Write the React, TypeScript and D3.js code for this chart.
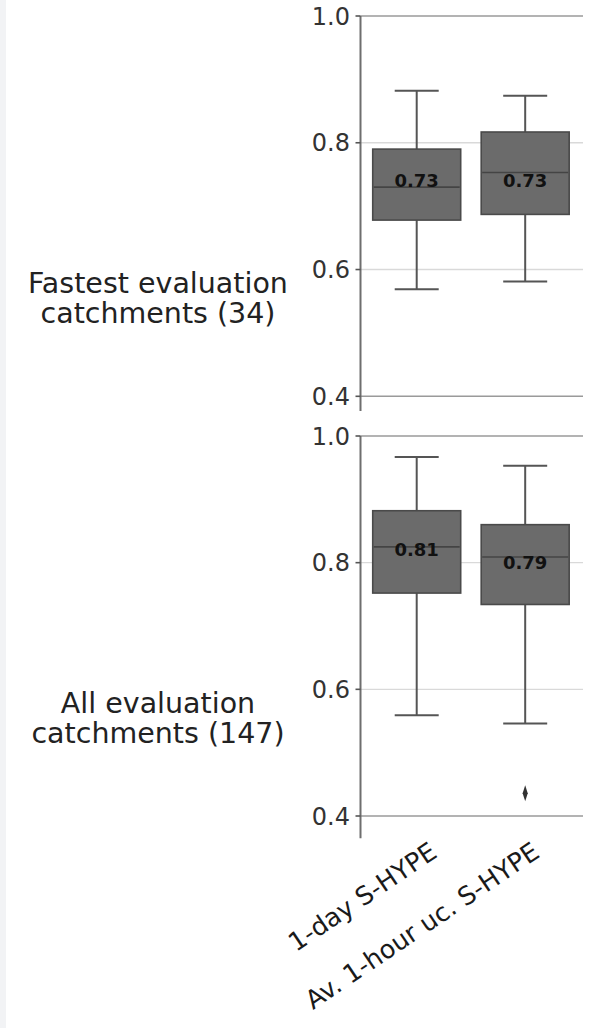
import React from "react";
import * as d3 from "d3";

const categories = ["1-day S-HYPE", "Av. 1-hour uc. S-HYPE"];
const panelLabels = [
  ["Fastest evaluation", "catchments (34)"],
  ["All evaluation", "catchments (147)"],
];
const yTicks = [0.4, 0.6, 0.8, 1.0];

// Fastest evaluation catchments (34)
const fastestWhiskerLow = [0.569, 0.581];
const fastestQ1 = [0.678, 0.687];
const fastestMedian = [0.73, 0.753];
const fastestQ3 = [0.79, 0.817];
const fastestWhiskerHigh = [0.882, 0.874];
const fastestMean = [0.73, 0.73];
const fastestOutliers: number[][] = [[], []];

// All evaluation catchments (147)
const allWhiskerLow = [0.559, 0.546];
const allQ1 = [0.752, 0.734];
const allMedian = [0.825, 0.809];
const allQ3 = [0.882, 0.86];
const allWhiskerHigh = [0.967, 0.953];
const allMean = [0.81, 0.79];
const allOutliers: number[][] = [[], [0.436]];

const W = 613;
const H = 1028;
const axisX = 360.5;
const gridRight = 583;
const labelShift = [22, 16];

const panels = [
  {
    label: panelLabels[0],
    low: fastestWhiskerLow, q1: fastestQ1, med: fastestMedian, q3: fastestQ3,
    high: fastestWhiskerHigh, mean: fastestMean, out: fastestOutliers,
    y: d3.scaleLinear().domain([0.4, 1.0]).range([396.3, 16]),
    yMin: 0.377,
  },
  {
    label: panelLabels[1],
    low: allWhiskerLow, q1: allQ1, med: allMedian, q3: allQ3,
    high: allWhiskerHigh, mean: allMean, out: allOutliers,
    y: d3.scaleLinear().domain([0.4, 1.0]).range([816, 436]),
    yMin: 0.365,
  },
];

const x = d3
  .scaleBand<string>()
  .domain(categories)
  .range([359.7, 582.2])
  .paddingInner(0.189)
  .paddingOuter(0.12);

const FONT = "'DejaVu Sans', sans-serif";

export default function App() {
  const bw = x.bandwidth();
  const diamond = d3.symbol().type(d3.symbolDiamond).size(40)();
  return (
    <svg
      width={W}
      height={H}
      style={{ position: "absolute", left: 0, top: 0, background: "#fff" }}
      fontFamily={FONT}
    >
      <rect x={0} y={0} width={W} height={H} fill="#ffffff" />
      <rect x={0} y={0} width={6} height={H} fill="#f2f3f5" />
      {panels.map((p, pi) => {
        const y = p.y;
        const top = y(1.0);
        return (
          <g key={pi}>
            {yTicks.map((t) => (
              <line
                key={"g" + t}
                x1={axisX}
                x2={gridRight}
                y1={y(t)}
                y2={y(t)}
                stroke={t === 1.0 || t === 0.4 ? "#9a9a9a" : "#d9d9d9"}
                strokeWidth={t === 1.0 || t === 0.4 ? 1.6 : 1.4}
              />
            ))}
            <line x1={axisX} x2={axisX} y1={top} y2={y(p.yMin)} stroke="#6e6e6e" strokeWidth={2} />
            {yTicks.map((t) => (
              <g key={"t" + t}>
                <line x1={axisX - 5} x2={axisX} y1={y(t)} y2={y(t)} stroke="#555" strokeWidth={1.6} />
                <text
                  x={350}
                  y={y(t)}
                  dy="0.36em"
                  textAnchor="end"
                  fontSize={24}
                  fill="#333"
                >
                  {d3.format(".1f")(t)}
                </text>
              </g>
            ))}
            {categories.map((c, i) => {
              const cx = (x(c) as number) + bw / 2;
              const cap = bw / 4;
              return (
                <g key={c}>
                  <line x1={cx} x2={cx} y1={y(p.high[i])} y2={y(p.q3[i])} stroke="#555" strokeWidth={2} />
                  <line x1={cx} x2={cx} y1={y(p.q1[i])} y2={y(p.low[i])} stroke="#555" strokeWidth={2} />
                  <line x1={cx - cap} x2={cx + cap} y1={y(p.high[i])} y2={y(p.high[i])} stroke="#555" strokeWidth={2} />
                  <line x1={cx - cap} x2={cx + cap} y1={y(p.low[i])} y2={y(p.low[i])} stroke="#555" strokeWidth={2} />
                  <rect
                    x={x(c)}
                    y={y(p.q3[i])}
                    width={bw}
                    height={y(p.q1[i]) - y(p.q3[i])}
                    fill="#6b6b6b"
                    stroke="#4a4a4a"
                    strokeWidth={1.6}
                  />
                  <line
                    x1={(x(c) as number) + 1}
                    x2={(x(c) as number) + bw - 1}
                    y1={y(p.med[i])}
                    y2={y(p.med[i])}
                    stroke="#444"
                    strokeWidth={1.6}
                  />
                  {p.out[i].map((o, k) => (
                    <path
                      key={k}
                      d={diamond as string}
                      transform={`translate(${cx},${y(o)}) scale(0.75,1.35)`}
                      fill="#333"
                    />
                  ))}
                  <text
                    x={cx}
                    y={y(p.mean[i])}
                    textAnchor="middle"
                    fontSize={18}
                    fontWeight="bold"
                    fill="#111"
                  >
                    {d3.format(".2f")(p.mean[i])}
                  </text>
                </g>
              );
            })}
            <text textAnchor="middle" fontSize={28.5} fill="#222">
              <tspan x={158} y={top + 277.3}>{p.label[0]}</tspan>
              <tspan x={158} y={top + 307.3}>{p.label[1]}</tspan>
            </text>
          </g>
        );
      })}
      {categories.map((c, i) => {
        const ax = (x(c) as number) + bw / 2 + labelShift[i];
        const ay = 856;
        return (
          <text
            key={c}
            transform={`translate(${ax},${ay}) rotate(-34)`}
            textAnchor="end"
            fontSize={25.5}
            fill="#1a1a1a"
          >
            {c}
          </text>
        );
      })}
    </svg>
  );
}
